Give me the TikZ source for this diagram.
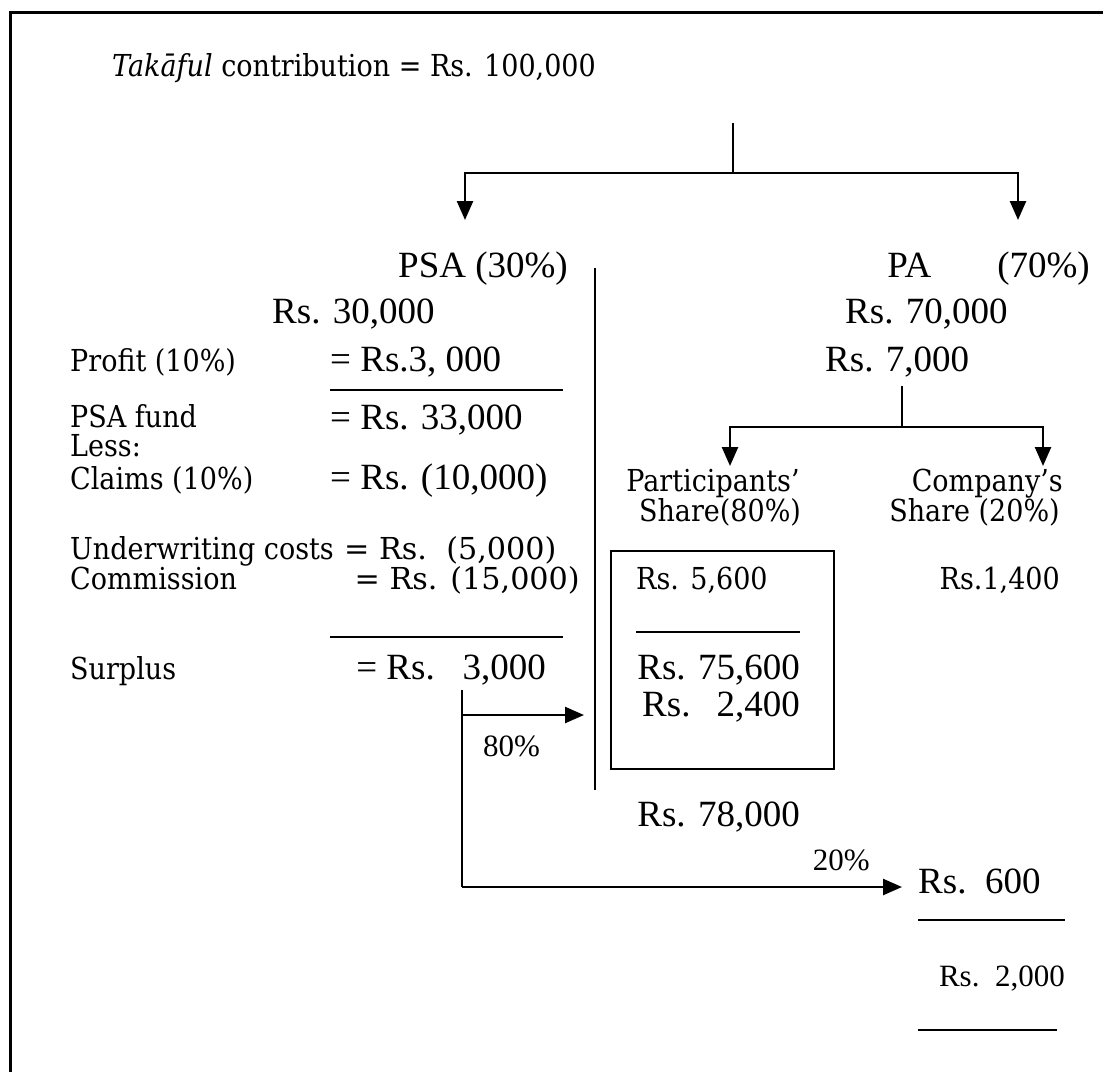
\documentclass[tikz,border=0pt]{standalone}
\usepackage{fontspec}
\usepackage{graphicx}
\setmainfont{DejaVu Serif}
\newfontfamily\timesfont{Liberation Serif}
\usetikzlibrary{arrows.meta,positioning}
% schoolbook-like lines stand a little taller
\newcommand\tall[1]{\scalebox{1}[1.12]{#1}}
\newcommand\tallw[1]{\scalebox{1.12}[1.12]{#1}}

\begin{document}
\begin{tikzpicture}[
  x=1pt, y=-1pt,
  cent/.style={font=\fontsize{27}{30}\selectfont, inner sep=0pt, anchor=base west},
  tms/.style={font=\timesfont\fontsize{37}{40}\selectfont, inner sep=0pt, anchor=base west},
  small/.style={font=\timesfont\fontsize{31}{33}\selectfont, inner sep=0pt, anchor=base west},
  link/.style={line width=2.5pt},
  arrow/.style={link, -{Triangle[length=19pt,width=16pt]}},
  rule/.style={line width=2.2pt}
]
\useasboundingbox (0,0) rectangle (1103,1072);
% frame
\draw[line width=3pt] (10,1072) -- (10,12) -- (1103,12);

% heading
\node[cent] (contrib) at (112,76) {\tall{\textit{Takāful} contribution = Rs. 100,000}};

% first split
\coordinate (top) at (733,123);
\coordinate (fork) at (733,173);
\coordinate (psatip) at (465,220);
\coordinate (patip) at (1018,220);
\draw[link] (top) -- (fork);
\draw[arrow] (fork) -| (psatip);
\draw[arrow] (fork) -| (patip);

\node[tms] (psa) at (398,277) {PSA (30\%)};
\node[tms, anchor=base east] (pa) at (1090,277) {PA\hspace{66pt}(70\%)};
\node[tms] (psaamt) at (272,323) {Rs. 30,000};
\node[tms] (paamt) at (845,323) {Rs. 70,000};

% separator
\coordinate (sepa) at (595,268);
\coordinate (sepb) at (595,790);
\draw[line width=1.8pt] (sepa) -- (sepb);

% PSA side
\node[cent] (profit) at (70,371) {\tall{Profit (10\%)}};
\node[tms] (profitv) at (330,371) {= Rs.3, 000};
\draw[rule] (330,390) -- (563,390);
\node[cent] (fund) at (70,427) {\tall{PSA fund}};
\node[tms] (fundv) at (330,429) {= Rs. 33,000};
\node[cent] (less) at (70,456) {\tall{Less:}};
\node[cent] (claims) at (70,489) {\tall{Claims (10\%)}};
\node[tms] (claimsv) at (330,489) {= Rs. (10,000)};
\node[cent] (uw) at (70,559) {\tall{Underwriting costs}};
\node[cent] (uwv) at (344,559) {\tallw{= Rs.\ \ (5,000)}};
\node[cent] (comm) at (70,589) {\tall{Commission}};
\node[cent, anchor=base east] (commv) at (580,589) {\tallw{= Rs. (15,000)}};
\draw[rule] (330,637) -- (563,637);
\node[cent] (surplus) at (70,679) {\tall{Surplus}};
\node[tms, anchor=base east] (surplusv) at (546,679) {= Rs.\ \ \ 3,000};

% PA side
\node[tms] (pashare) at (825,371) {Rs. 7,000};
\coordinate (ptop) at (902,386);
\coordinate (pfork) at (902,427);
\coordinate (parttip) at (730,466);
\coordinate (comptip) at (1043,466);
\draw[link] (ptop) -- (pfork);
\draw[arrow] (pfork) -| (parttip);
\draw[arrow] (pfork) -| (comptip);

\node[cent, anchor=base] (part) at (713,491) {\tall{Participants’}};
\node[cent, anchor=base] (partb) at (720,521) {\tall{Share(80\%)}};
\node[cent, anchor=base east] (comp) at (1063,491) {\tall{Company’s}};
\node[cent, anchor=base east] (compb) at (1060,521) {\tall{Share (20\%)}};

\node[draw, line width=2pt, minimum width=223pt, minimum height=218pt, anchor=north west] (pbox) at (610,550) {};
\node[cent] (partamt) at (636,589) {\tall{Rs. 5,600}};
\node[cent, anchor=base east] (compamt) at (1060,589) {\tall{Rs.1,400}};
\draw[rule] (636,632) -- (800,632);
\node[tms, anchor=base east] (parttot) at (800,679) {Rs. 75,600};
\node[tms, anchor=base east] (partsur) at (800,716) {Rs.\hspace{26pt}2,400};
\node[tms, anchor=base east] (partfin) at (800,826) {Rs. 78,000};

% surplus split
\coordinate (stop) at (462,690);
\coordinate (sbend) at (462,715);
\coordinate (sbot) at (462,887);
\coordinate (boxtip) at (584,715);
\coordinate (comptip2) at (902,887);
\draw[link] (stop) -- (sbot);
\draw[arrow] (sbend) -- (boxtip);
\draw[arrow] (sbot) -- (comptip2);
\node[small] (eighty) at (483,756) {80\%};
\node[small, anchor=base east] (twenty) at (870,870) {20\%};

\node[tms] (compsur) at (918,893) {Rs.\ \ 600};
\draw[rule] (918,920) -- (1065,920);
\node[small, anchor=base east] (compfin) at (1065,986) {Rs.\ \ 2,000};
\draw[rule] (918,1030) -- (1057,1030);
\end{tikzpicture}
\end{document}
